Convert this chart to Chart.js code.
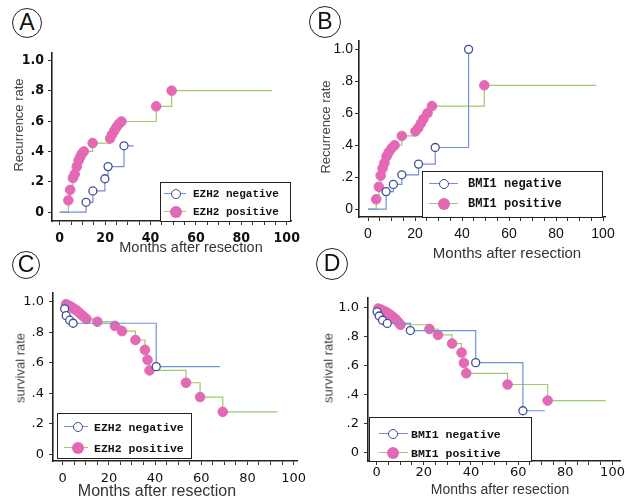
<!DOCTYPE html>
<html>
<head>
<meta charset="utf-8">
<script src="https://cdn.jsdelivr.net/npm/chart.js@4.4.1/dist/chart.umd.min.js"></script>
<style>
  body { margin: 0; background: #fff; }
  #page { position: relative; width: 625px; height: 504px; overflow: hidden; font-family: "Liberation Sans", Arial, sans-serif; }
  canvas { position: absolute; }
  .tag { position: absolute; border: 1.5px solid #222; border-radius: 50%; text-align: center; color: #111; font-size: 23px; box-sizing: border-box; }
  .ytitle { position: absolute; transform: translate(-50%, -50%) rotate(-90deg); white-space: nowrap; color: #444; font-size: 13px; }
  .xtitle { position: absolute; transform: translate(-50%, -50%); white-space: nowrap; color: #333; }
  .legend { position: absolute; border: 1.5px solid #222; background: #fff; box-sizing: border-box; }
  .legend .ln { position: absolute; height: 0; border-top: 1.5px solid; }
  .legend .mk { position: absolute; border-radius: 50%; box-sizing: border-box; }
  .legend .tx { position: absolute; font-family: "Liberation Mono", "DejaVu Sans Mono", monospace; font-weight: bold; color: #111; white-space: nowrap; transform: translateY(-50%); }
</style>
</head>
<body>
<div id="page"></div>
<script>
// tick labels
const xTickLabels = ['0', '20', '40', '60', '80', '100'];
const yTickLabels = ['0', '.2', '.4', '.6', '.8', '1.0'];

// A: recurrence, EZH2
const monthsA_neg = [11.6, 14.6, 19.9, 21.3, 28.3];
const rateA_neg = [0.065, 0.14, 0.22, 0.30, 0.437];
const endA_neg = 32.6;
const monthsA_pos = [3.8, 4.6, 5.8, 6.6, 7.5, 8.3, 9.1, 9.8, 10.6, 14.5, 22.2, 23.0, 24.0, 25.0, 26.0, 27.2, 42.5, 49.3];
const rateA_pos = [0.078, 0.147, 0.225, 0.25, 0.30, 0.34, 0.365, 0.385, 0.40, 0.455, 0.485, 0.51, 0.535, 0.56, 0.58, 0.597, 0.697, 0.80];
const endA_pos = 93.6;

// B: recurrence, BMI1
const monthsB_neg = [7.7, 10.8, 14.4, 21.5, 28.6, 42.8];
const rateB_neg = [0.11, 0.155, 0.215, 0.282, 0.386, 1.0];
const endB_neg = null;
const monthsB_pos = [3.5, 4.6, 5.4, 6.2, 7.0, 7.9, 8.8, 10.0, 11.3, 14.4, 20.2, 21.4, 22.5, 23.6, 25.3, 27.2, 49.5];
const rateB_pos = [0.062, 0.14, 0.21, 0.255, 0.29, 0.33, 0.355, 0.38, 0.40, 0.458, 0.487, 0.508, 0.537, 0.565, 0.60, 0.645, 0.775];
const endB_pos = 97.2;

// C: survival, EZH2
const monthsC_neg = [0.8, 1.5, 3.0, 4.5, 40.5];
const rateC_neg = [0.955, 0.91, 0.88, 0.86, 0.575];
const endC_neg = 68.1;
const monthsC_pos = [1.4, 2.3, 3.4, 4.4, 5.2, 6.2, 7.1, 8.2, 9.3, 10.3, 15.0, 22.6, 25.7, 31.5, 35.6, 36.7, 37.6, 53.4, 59.5, 69.3];
const rateC_pos = [0.985, 0.978, 0.97, 0.96, 0.952, 0.942, 0.93, 0.915, 0.90, 0.888, 0.87, 0.843, 0.808, 0.75, 0.685, 0.62, 0.55, 0.469, 0.375, 0.278];
const endC_pos = 93;

// D: survival, BMI1
const monthsD_neg = [0.2, 1.1, 2.5, 4.5, 14.3, 42.0, 62.0];
const rateD_neg = [0.969, 0.94, 0.911, 0.889, 0.84, 0.62, 0.29];
const endD_neg = 71.3;
const monthsD_pos = [0.7, 1.8, 2.8, 3.9, 4.9, 5.9, 7.0, 8.1, 9.1, 10.1, 22.4, 26.0, 32.0, 36.0, 37.0, 38.0, 55.5, 72.5];
const rateD_pos = [0.991, 0.984, 0.976, 0.968, 0.958, 0.947, 0.933, 0.918, 0.90, 0.88, 0.851, 0.81, 0.751, 0.689, 0.618, 0.547, 0.47, 0.36];
const endD_pos = 97.2;

const NEG_LINE = '#7090d8';
const NEG_EDGE = '#3f4f95';
const POS_LINE = '#9cca6c';
const POS_DOT = '#e468b4';

const page = document.getElementById('page');

function el(cls, css, text) {
    const d = document.createElement('div');
    d.className = cls;
    Object.assign(d.style, css);
    if (text) d.textContent = text;
    page.appendChild(d);
    return d;
}

// build step-curve points; first point and the follow-up end carry no marker
function kmDataset(label, start, months, rates, end, neg) {
    const pts = [{ x: 0, y: start }];
    months.forEach((m, i) => pts.push({ x: m, y: rates[i] }));
    if (end !== null) pts.push({ x: end, y: rates[rates.length - 1] });
    const last = pts.length - 1;
    return {
        label: label,
        data: pts,
        showLine: true,
        stepped: true,
        borderColor: neg ? NEG_LINE : POS_LINE,
        borderWidth: 1.2,
        pointRadius: ctx => (ctx.dataIndex === 0 || (end !== null && ctx.dataIndex === last)) ? 0 : (neg ? 4 : 4.8),
        pointBackgroundColor: neg ? '#fff' : POS_DOT,
        pointBorderColor: neg ? NEG_EDGE : POS_DOT,
        pointBorderWidth: neg ? 1.3 : 1,
    };
}

function makePanel(p) {
    const cv = document.createElement('canvas');
    cv.width = p.box.w;
    cv.height = p.box.h;
    cv.style.left = p.box.x + 'px';
    cv.style.top = p.box.y + 'px';
    page.appendChild(cv);

    const tickFont = p.tickFont;
    new Chart(cv.getContext('2d'), {
        type: 'scatter',
        data: { datasets: p.datasets },
        options: {
            responsive: false,
            animation: false,
            layout: { padding: { top: p.area.t - p.box.y, right: p.box.x + p.box.w - p.area.r, left: 0, bottom: 0 } },
            plugins: { legend: { display: false }, tooltip: { enabled: false } },
            scales: {
                x: {
                    type: 'linear',
                    min: p.xMin, max: p.xMax,
                    afterFit: s => { s.height = p.box.y + p.box.h - p.area.b; },
                    border: { color: '#222', width: 1.6 },
                    grid: { drawOnChartArea: false, tickLength: 4, color: '#333' },
                    ticks: {
                        stepSize: 5,
                        autoSkip: false,
                        maxRotation: 0,
                        includeBounds: false,
                        padding: p.xPad,
                        color: '#111',
                        font: tickFont,
                        callback: v => (Math.round(v) % 20 === 0 ? xTickLabels[Math.round(v) / 20] : ''),
                    },
                },
                y: {
                    min: p.yMin, max: p.yMax,
                    afterFit: s => { s.width = p.area.l - p.box.x; },
                    border: { color: '#222', width: 1.6 },
                    grid: { drawOnChartArea: false, tickLength: 4, color: '#333' },
                    ticks: {
                        stepSize: 0.2,
                        includeBounds: false,
                        padding: p.yPad,
                        color: '#111',
                        font: tickFont,
                        callback: v => yTickLabels[Math.round(v * 5)],
                    },
                },
            },
        },
    });

    // circled panel letter
    el('tag', {
        left: (p.tag[0] - p.tag[2]) + 'px', top: (p.tag[1] - p.tag[2]) + 'px',
        width: p.tag[2] * 2 + 'px', height: p.tag[2] * 2 + 'px', lineHeight: (p.tag[2] * 2 - 3) + 'px',
    }, p.letter);

    el('ytitle', { left: p.yTitle[0] + 'px', top: p.yTitle[1] + 'px' }, p.yText);
    el('xtitle', { left: p.xTitle[0] + 'px', top: p.xTitle[1] + 'px', fontSize: p.xTitle[2] + 'px' }, 'Months after resection');

    // legend box inside the plot
    const lg = p.legend;
    const box = el('legend', { left: lg.x + 'px', top: lg.y + 'px', width: lg.w + 'px', height: lg.h + 'px' });
    p.datasets.forEach((ds, i) => {
        const neg = i === 0;
        const cy = lg.rows[i];
        const ln = document.createElement('div');
        ln.className = 'ln';
        Object.assign(ln.style, { left: lg.line[0] + 'px', width: (lg.line[1] - lg.line[0]) + 'px', top: (cy - 1) + 'px', borderColor: neg ? NEG_LINE : POS_LINE });
        box.appendChild(ln);
        const r = neg ? 5 : 6;
        const mk = document.createElement('div');
        mk.className = 'mk';
        Object.assign(mk.style, {
            left: (lg.mark - r) + 'px', top: (cy - r) + 'px', width: r * 2 + 'px', height: r * 2 + 'px',
            background: neg ? '#fff' : POS_DOT, border: neg ? '1.5px solid ' + NEG_EDGE : 'none',
        });
        box.appendChild(mk);
        const tx = document.createElement('div');
        tx.className = 'tx';
        Object.assign(tx.style, { left: lg.text + 'px', top: cy + 'px', fontSize: lg.size + 'px' });
        tx.textContent = ds.label;
        box.appendChild(tx);
    });
}

const boldNarrow = { family: '"Liberation Sans Narrow", "DejaVu Sans Condensed", sans-serif', size: 14, weight: 'bold' };
const plainSans = { family: '"Liberation Sans", Arial, sans-serif', size: 14 };
const wideSans = { family: '"DejaVu Sans", sans-serif', size: 13 };

makePanel({
    letter: 'A', tag: [27, 23, 15],
    box: { x: 0, y: 40, w: 305, h: 215 }, area: { l: 52, t: 50, r: 300, b: 221 },
    xMin: -3.4, xMax: 102.1, yMin: -0.058, yMax: 1.052,
    tickFont: boldNarrow, xPad: 5, yPad: 4,
    yText: 'Recurrence rate', yTitle: [18, 125], xTitle: [191, 247, 14.5],
    legend: { x: 160, y: 182, w: 131, h: 40, rows: [11, 29], line: [3, 25], mark: 15, text: 32, size: 11 },
    datasets: [
        kmDataset('EZH2 negative', 0, monthsA_neg, rateA_neg, endA_neg, true),
        kmDataset('EZH2 positive', 0, monthsA_pos, rateA_pos, endA_pos, false),
    ],
});

makePanel({
    letter: 'B', tag: [325, 22, 16],
    box: { x: 310, y: 30, w: 315, h: 225 }, area: { l: 359, t: 38, r: 605, b: 217 },
    xMin: -3.83, xMax: 100.85, yMin: -0.049, yMax: 1.056,
    tickFont: plainSans, xPad: 5, yPad: 2,
    yText: 'Recurrence rate', yTitle: [325, 127], xTitle: [507, 252, 15],
    legend: { x: 422, y: 171, w: 181, h: 47, rows: [12, 32], line: [6, 35], mark: 21, text: 45, size: 12 },
    datasets: [
        kmDataset('BMI1 negative', 0, monthsB_neg, rateB_neg, endB_neg, true),
        kmDataset('BMI1 positive', 0, monthsB_pos, rateB_pos, endB_pos, false),
    ],
});

makePanel({
    letter: 'C', tag: [26, 265, 14],
    box: { x: 0, y: 280, w: 312, h: 220 }, area: { l: 53, t: 289, r: 312, b: 461 },
    xMin: -4.22, xMax: 101.9, yMin: -0.045, yMax: 1.06,
    tickFont: wideSans, xPad: 6, yPad: 5,
    yText: 'survival rate', yTitle: [20, 368], xTitle: [157, 491, 16],
    legend: { x: 57, y: 413, w: 135, h: 46, rows: [13, 34], line: [6, 30], mark: 20, text: 36, size: 11.5 },
    datasets: [
        kmDataset('EZH2 negative', 1, monthsC_neg, rateC_neg, endC_neg, true),
        kmDataset('EZH2 positive', 1, monthsC_pos, rateC_pos, endC_pos, false),
    ],
});

makePanel({
    letter: 'D', tag: [332, 264, 16],
    box: { x: 312, y: 285, w: 313, h: 215 }, area: { l: 368, t: 293, r: 623, b: 461 },
    xMin: -3.65, xMax: 103.4, yMin: -0.055, yMax: 1.065,
    tickFont: wideSans, xPad: 0, yPad: 5,
    yText: 'survival rate', yTitle: [328, 368], xTitle: [500, 489, 14],
    legend: { x: 369, y: 417, w: 163, h: 45, rows: [16, 35], line: [9, 38], mark: 23, text: 41, size: 11.5 },
    datasets: [
        kmDataset('BMI1 negative', 1, monthsD_neg, rateD_neg, endD_neg, true),
        kmDataset('BMI1 positive', 1, monthsD_pos, rateD_pos, endD_pos, false),
    ],
});
</script>
</body>
</html>
